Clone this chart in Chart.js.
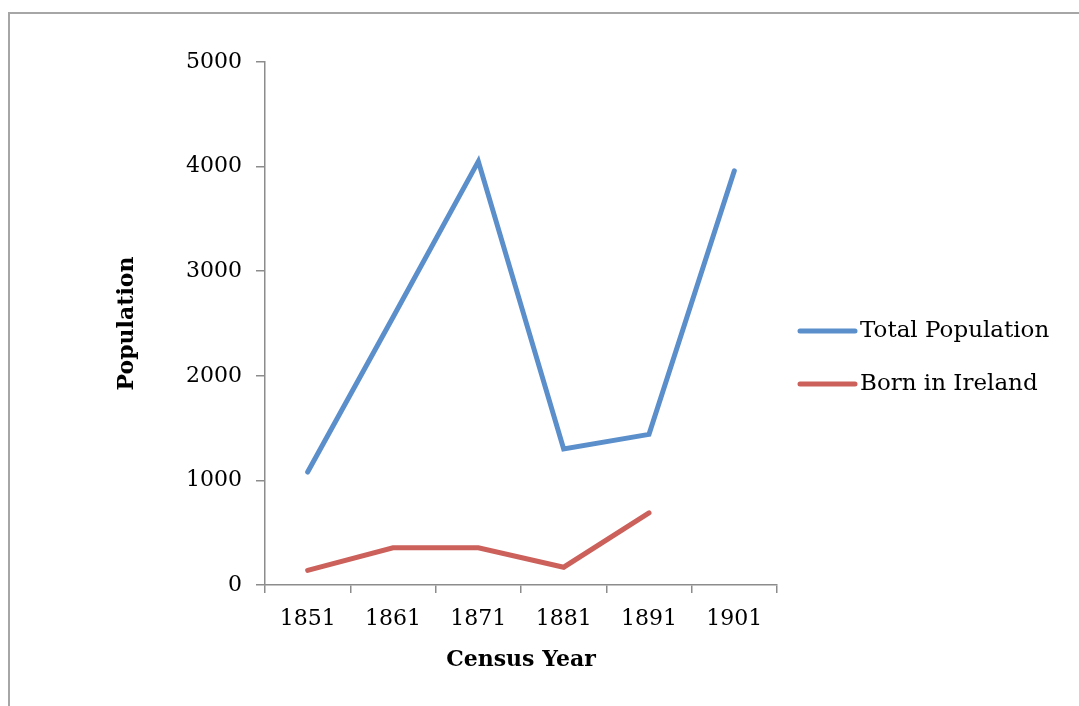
<!DOCTYPE html>
<html>
<head>
<meta charset="utf-8">
<script src="https://cdn.jsdelivr.net/npm/chart.js@4"></script>
<style>
  html, body { margin: 0; padding: 0; background: #fff; }
  .wrap { position: relative; width: 1079px; height: 706px; overflow: hidden; }
  .frame { position: absolute; left: 8px; top: 12px; width: 1200px; height: 800px;
           border-top: 2px solid #a6a6a6; border-left: 2px solid #a6a6a6; }
  canvas { position: absolute; left: 0; top: 0; }
</style>
</head>
<body>
<div class="wrap">
  <div class="frame"></div>
  <canvas id="censusChart" width="1079" height="706"></canvas>
</div>
<script>
const years = ['1851', '1861', '1871', '1881', '1891', '1901'];
const totalPopulation = [1080, 2560, 4050, 1300, 1440, 3960];
const bornInIreland = [140, 355, 355, 170, 690, null];
const yTicks = [0, 1000, 2000, 3000, 4000, 5000];

const FONT = 'DejaVu Serif';
const AXIS_GREY = '#8c8c8c';

// legend drawn by hand to sit where the original one is
const sideLegend = {
  id: 'sideLegend',
  afterDraw(chart) {
    const ctx = chart.ctx;
    const x0 = chart.chartArea.right + 23;
    let y = chart.height / 2 - 22;
    ctx.save();
    ctx.font = '23px "' + FONT + '"';
    ctx.textBaseline = 'middle';
    ctx.textAlign = 'left';
    chart.data.datasets.forEach(ds => {
      ctx.strokeStyle = ds.borderColor;
      ctx.lineWidth = 5;
      ctx.lineCap = 'round';
      ctx.beginPath();
      ctx.moveTo(x0, y);
      ctx.lineTo(x0 + 55, y);
      ctx.stroke();
      ctx.fillStyle = '#000';
      ctx.fillText(ds.label, x0 + 60, y);
      y += 53;
    });
    ctx.restore();
  }
};

new Chart(document.getElementById('censusChart'), {
  type: 'line',
  data: {
    labels: years,
    datasets: [
      {
        label: 'Total Population',
        data: totalPopulation,
        borderColor: '#5A8FCB',
        borderWidth: 5,
        pointRadius: 0,
        borderCapStyle: 'round',
        tension: 0
      },
      {
        label: 'Born in Ireland',
        data: bornInIreland,
        borderColor: '#CC605B',
        borderWidth: 5,
        pointRadius: 0,
        borderCapStyle: 'round',
        tension: 0
      }
    ]
  },
  options: {
    responsive: false,
    animation: false,
    layout: { padding: { left: 114, right: 302, top: 62, bottom: 33 } },
    plugins: {
      legend: { display: false },
      tooltip: { enabled: false }
    },
    scales: {
      x: {
        offset: true,
        grid: { offset: true, drawOnChartArea: false, tickLength: 8, color: AXIS_GREY, lineWidth: 1.5 },
        border: { color: AXIS_GREY, width: 1.5 },
        ticks: { color: '#000', font: { family: FONT, size: 22 }, padding: 13, maxRotation: 0 },
        title: { display: true, text: 'Census Year', color: '#000', padding: 0,
                 font: { family: FONT, size: 22, weight: 'bold' } },
        afterFit(scale) { scale.height = 88; }
      },
      y: {
        min: 0,
        max: 5000,
        afterBuildTicks(scale) { scale.ticks = yTicks.map(v => ({ value: v })); },
        grid: { drawOnChartArea: false, tickLength: 9, color: AXIS_GREY, lineWidth: 1.5 },
        border: { color: AXIS_GREY, width: 1.5 },
        ticks: { color: '#000', font: { family: FONT, size: 22 }, padding: 14,
                 callback: v => String(v) },
        title: { display: true, text: 'Population', color: '#000', padding: 0,
                 font: { family: FONT, size: 22, weight: 'bold' } },
        afterFit(scale) { scale.width = 151; }
      }
    }
  },
  plugins: [sideLegend]
});
</script>
</body>
</html>
